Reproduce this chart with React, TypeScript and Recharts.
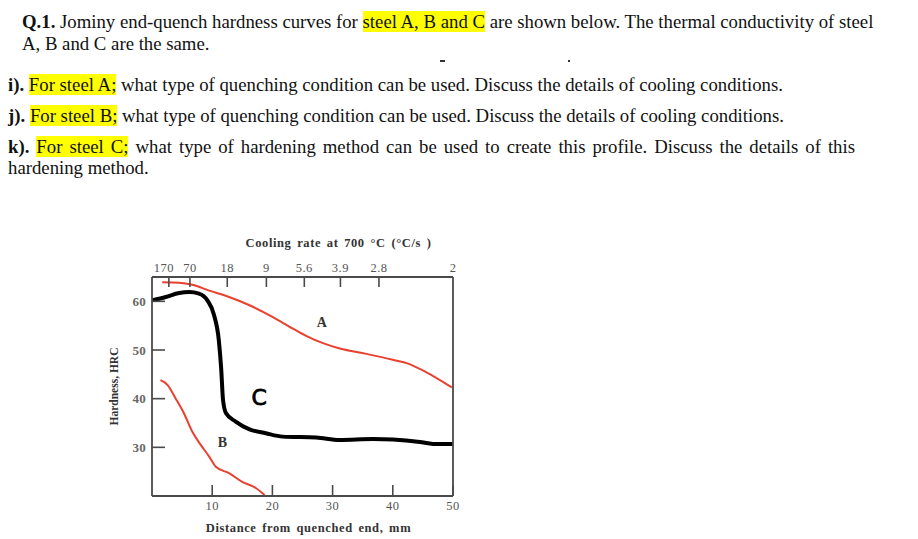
import type React from 'react';
import { LineChart, Line, XAxis, YAxis, ReferenceDot, Label } from 'recharts';

// Jominy curves: distance from quenched end (mm) vs hardness (HRC)
const steelADist = [1.7, 4.5, 6.7, 9.5, 12.8, 16.2, 20, 23.4, 25.6, 28.4, 31.2, 35.6, 40, 42.3, 45.6, 49.8];
const steelAHrc = [63.9, 63.8, 63.4, 62.2, 60.9, 59.2, 56.8, 54.4, 52.9, 51.4, 50.3, 49.2, 48.0, 47.3, 45.4, 42.3];

const steelBDist = [1.4, 2.6, 3.9, 5.3, 6.7, 8.1, 9.5, 10.6, 12.8, 15, 17.3, 18.7];
const steelBHrc = [43.8, 42.8, 40.1, 37, 33.2, 30.5, 28.1, 26, 24.7, 22.9, 21.6, 20.2];

const steelCDist = [0, 2.3, 4.5, 6.2, 7.8, 9.2, 10.3, 11.1, 11.5, 11.8, 12.3, 13.9, 16.2, 18.9, 21.7, 27.3, 31.2, 36.7, 40, 44.5, 46.7, 50.3];
const steelCHrc = [60.2, 60.9, 61.7, 61.9, 61.6, 60.2, 57.2, 52, 46, 39.7, 37, 35.3, 33.7, 32.9, 32.2, 32, 31.5, 31.7, 31.6, 31.1, 30.7, 30.7];

const distanceTicks = [10, 20, 30, 40, 50];
const hardnessTicks = [30, 40, 50, 60];
const coolingTickPos = [2.8, 6.3, 12.5, 19, 25.3, 31.3, 37.7, 50];
const coolingTickLabels = ['170', '70', '18', '9', '5.6', '3.9', '2.8', '2'];

// curve labels [distance, hardness, text]
const curveLabels: [number, number, string][] = [
  [28.2, 55.7, 'A'],
  [11.7, 31.1, 'B'],
];

const toPoints = (d: number[], h: number[]) => d.map((x, i) => ({ d: x, h: h[i] }));
const dataA = toPoints(steelADist, steelAHrc);
const dataB = toPoints(steelBDist, steelBHrc);
const dataC = toPoints(steelCDist, steelCHrc);

const AXIS = '#4a4a4a';
const RED = '#e8412f';
const serif = '"Liberation Serif", "Times New Roman", serif';

const BottomTick = ({ x, y, payload }: any) => (
  <g>
    <line x1={x} x2={x} y1={y} y2={y - 11} stroke={AXIS} strokeWidth={1.6} />
    <text x={x} y={y + 14} textAnchor="middle" fontSize={12.5} fill="#555" letterSpacing={0.5} fontFamily={serif}>
      {payload.value}
    </text>
  </g>
);

const LeftTick = ({ x, y, payload }: any) => (
  <g>
    <line x1={x} x2={x + 13} y1={y} y2={y} stroke={AXIS} strokeWidth={1.6} />
    <text x={x - 6} y={y + 4.5} textAnchor="end" fontSize={13} fill="#666" fontWeight={700} letterSpacing={0.3} fontFamily={serif}>
      {payload.value}
    </text>
  </g>
);

const TopTick = ({ x, y, payload, index }: any) => (
  <g>
    {payload.value < 50 && <line x1={x} x2={x} y1={y} y2={y + 10} stroke={AXIS} strokeWidth={1.6} />}
    <text x={x - (index === 0 ? 5 : 0)} y={y - 5} textAnchor="middle" fontSize={12.5} fill="#555" letterSpacing={0.5} fontFamily={serif}>
      {coolingTickLabels[index]}
    </text>
  </g>
);

const Mark = ({ text }: { text: string }) => (props: any) => (
  <text x={props.cx} y={props.cy + 5} textAnchor="middle" fontSize={14} fontWeight={700} fill="#333" fontFamily={serif}>
    {text}
  </text>
);

const Hl = ({ children }: { children: React.ReactNode }) => (
  <span style={{ background: '#ffff00' }}>{children}</span>
);

const line = (top: number, left: number, extra?: React.CSSProperties): React.CSSProperties => ({
  position: 'absolute',
  top,
  left,
  whiteSpace: 'nowrap',
  lineHeight: '20px',
  ...extra,
});

export default function App() {
  return (
    <div
      style={{
        position: 'absolute',
        left: 0,
        top: 0,
        width: 918,
        height: 539,
        background: '#fff',
        fontFamily: serif,
        fontSize: 18.75,
        color: '#111',
        overflow: 'hidden',
      }}
    >
      <div style={line(12, 22)}>
        <b>Q.1.</b> Jominy end-quench hardness curves for <Hl>steel A, B and C</Hl> are shown below. The thermal conductivity of steel
      </div>
      <div style={line(34, 22)}>A, B and C are the same.</div>
      <div style={{ position: 'absolute', top: 60, left: 440, width: 5, height: 1.5, background: '#333' }} />
      <div style={{ position: 'absolute', top: 60, left: 568, width: 2, height: 1.5, background: '#333' }} />
      <div style={line(75, 8)}>
        <b>i).</b> <Hl>For steel A;</Hl> what type of quenching condition can be used. Discuss the details of cooling conditions.
      </div>
      <div style={line(106, 8)}>
        <b>j).</b> <Hl>For steel B;</Hl> what type of quenching condition can be used. Discuss the details of cooling conditions.
      </div>
      <div style={line(137, 8, { width: 847, textAlign: 'justify', textAlignLast: 'justify', whiteSpace: 'normal' })}>
        <b>k).</b> <Hl>For steel C;</Hl> what type of hardening method can be used to create this profile. Discuss the details of this
      </div>
      <div style={line(158, 8)}>hardening method.</div>

      <div style={{ position: 'absolute', left: 100, top: 225 }}>
        <LineChart width={380} height={314} margin={{ top: 0, left: 0, right: 0, bottom: 0 }}>
          <XAxis
            dataKey="d"
            type="number"
            domain={[0, 50]}
            ticks={distanceTicks}
            allowDataOverflow
            height={43}
            tickSize={0}
            tickMargin={0}
            tickLine={false}
            axisLine={{ stroke: AXIS, strokeWidth: 1.8 }}
            tick={<BottomTick />}
            interval={0}
          >
            <Label
              content={({ viewBox }: any) => (
                <text
                  x={viewBox.x + viewBox.width / 2 + 6}
                  y={viewBox.y + 36}
                  textAnchor="middle"
                  fontSize={12.5}
                  fontWeight={700}
                  fill="#333"
                  letterSpacing={0.6}
                  wordSpacing={2}
                  fontFamily={serif}
                >
                  Distance from quenched end, mm
                </text>
              )}
            />
          </XAxis>
          <XAxis
            xAxisId="top"
            orientation="top"
            dataKey="d"
            type="number"
            domain={[0, 50]}
            ticks={coolingTickPos}
            allowDataOverflow
            height={52}
            tickSize={0}
            tickMargin={0}
            tickLine={false}
            axisLine={{ stroke: AXIS, strokeWidth: 1.8 }}
            tick={<TopTick />}
            interval={0}
          >
            <Label
              content={({ viewBox }: any) => (
                <text
                  x={viewBox.x + viewBox.width / 2 + 36}
                  y={viewBox.y + viewBox.height - 30}
                  textAnchor="middle"
                  fontSize={12.5}
                  fontWeight={700}
                  fill="#333"
                  letterSpacing={0.6}
                  wordSpacing={2}
                  fontFamily={serif}
                >
                  Cooling rate at 700 °C (°C/s )
                </text>
              )}
            />
          </XAxis>
          <YAxis
            type="number"
            domain={[20, 65]}
            ticks={hardnessTicks}
            allowDataOverflow
            width={52}
            tickSize={0}
            tickMargin={0}
            tickLine={false}
            axisLine={{ stroke: AXIS, strokeWidth: 1.8 }}
            tick={<LeftTick />}
            interval={0}
          >
            <Label
              content={({ viewBox }: any) => {
                const cx = viewBox.x + viewBox.width - 34;
                const cy = viewBox.y + viewBox.height / 2;
                return (
                  <text
                    x={cx}
                    y={cy}
                    textAnchor="middle"
                    fontSize={11.5}
                    fontWeight={700}
                    fill="#333"
                    fontFamily={serif}
                    transform={`rotate(-90 ${cx} ${cy})`}
                  >
                    Hardness, HRC
                  </text>
                );
              }}
            />
          </YAxis>
          <YAxis
            yAxisId="right"
            orientation="right"
            type="number"
            domain={[20, 65]}
            width={27}
            tick={false}
            tickLine={false}
            axisLine={{ stroke: AXIS, strokeWidth: 1.8 }}
          />
          <Line
            data={dataA}
            dataKey="h"
            type="monotone"
            stroke={RED}
            strokeWidth={2}
            dot={false}
            isAnimationActive={false}
          />
          <Line
            data={dataB}
            dataKey="h"
            type="monotone"
            stroke={RED}
            strokeWidth={2}
            dot={false}
            isAnimationActive={false}
          />
          <Line
            data={dataC}
            dataKey="h"
            type="monotone"
            stroke="#000"
            strokeWidth={4}
            strokeLinejoin="round"
            strokeLinecap="round"
            dot={false}
            isAnimationActive={false}
          />
          {curveLabels.map(([d, h, t]) => (
            <ReferenceDot key={t} x={d} y={h} r={0} shape={Mark({ text: t })} />
          ))}
          <ReferenceDot
            x={17.8}
            y={40.3}
            r={0}
            shape={(p: any) => (
              <text
                x={p.cx}
                y={p.cy + 8}
                textAnchor="middle"
                fontSize={22}
                fill="#000"
                stroke="#000"
                strokeWidth={0.8}
                fontFamily='"DejaVu Sans", sans-serif'
              >
                C
              </text>
            )}
          />
        </LineChart>
      </div>
    </div>
  );
}
